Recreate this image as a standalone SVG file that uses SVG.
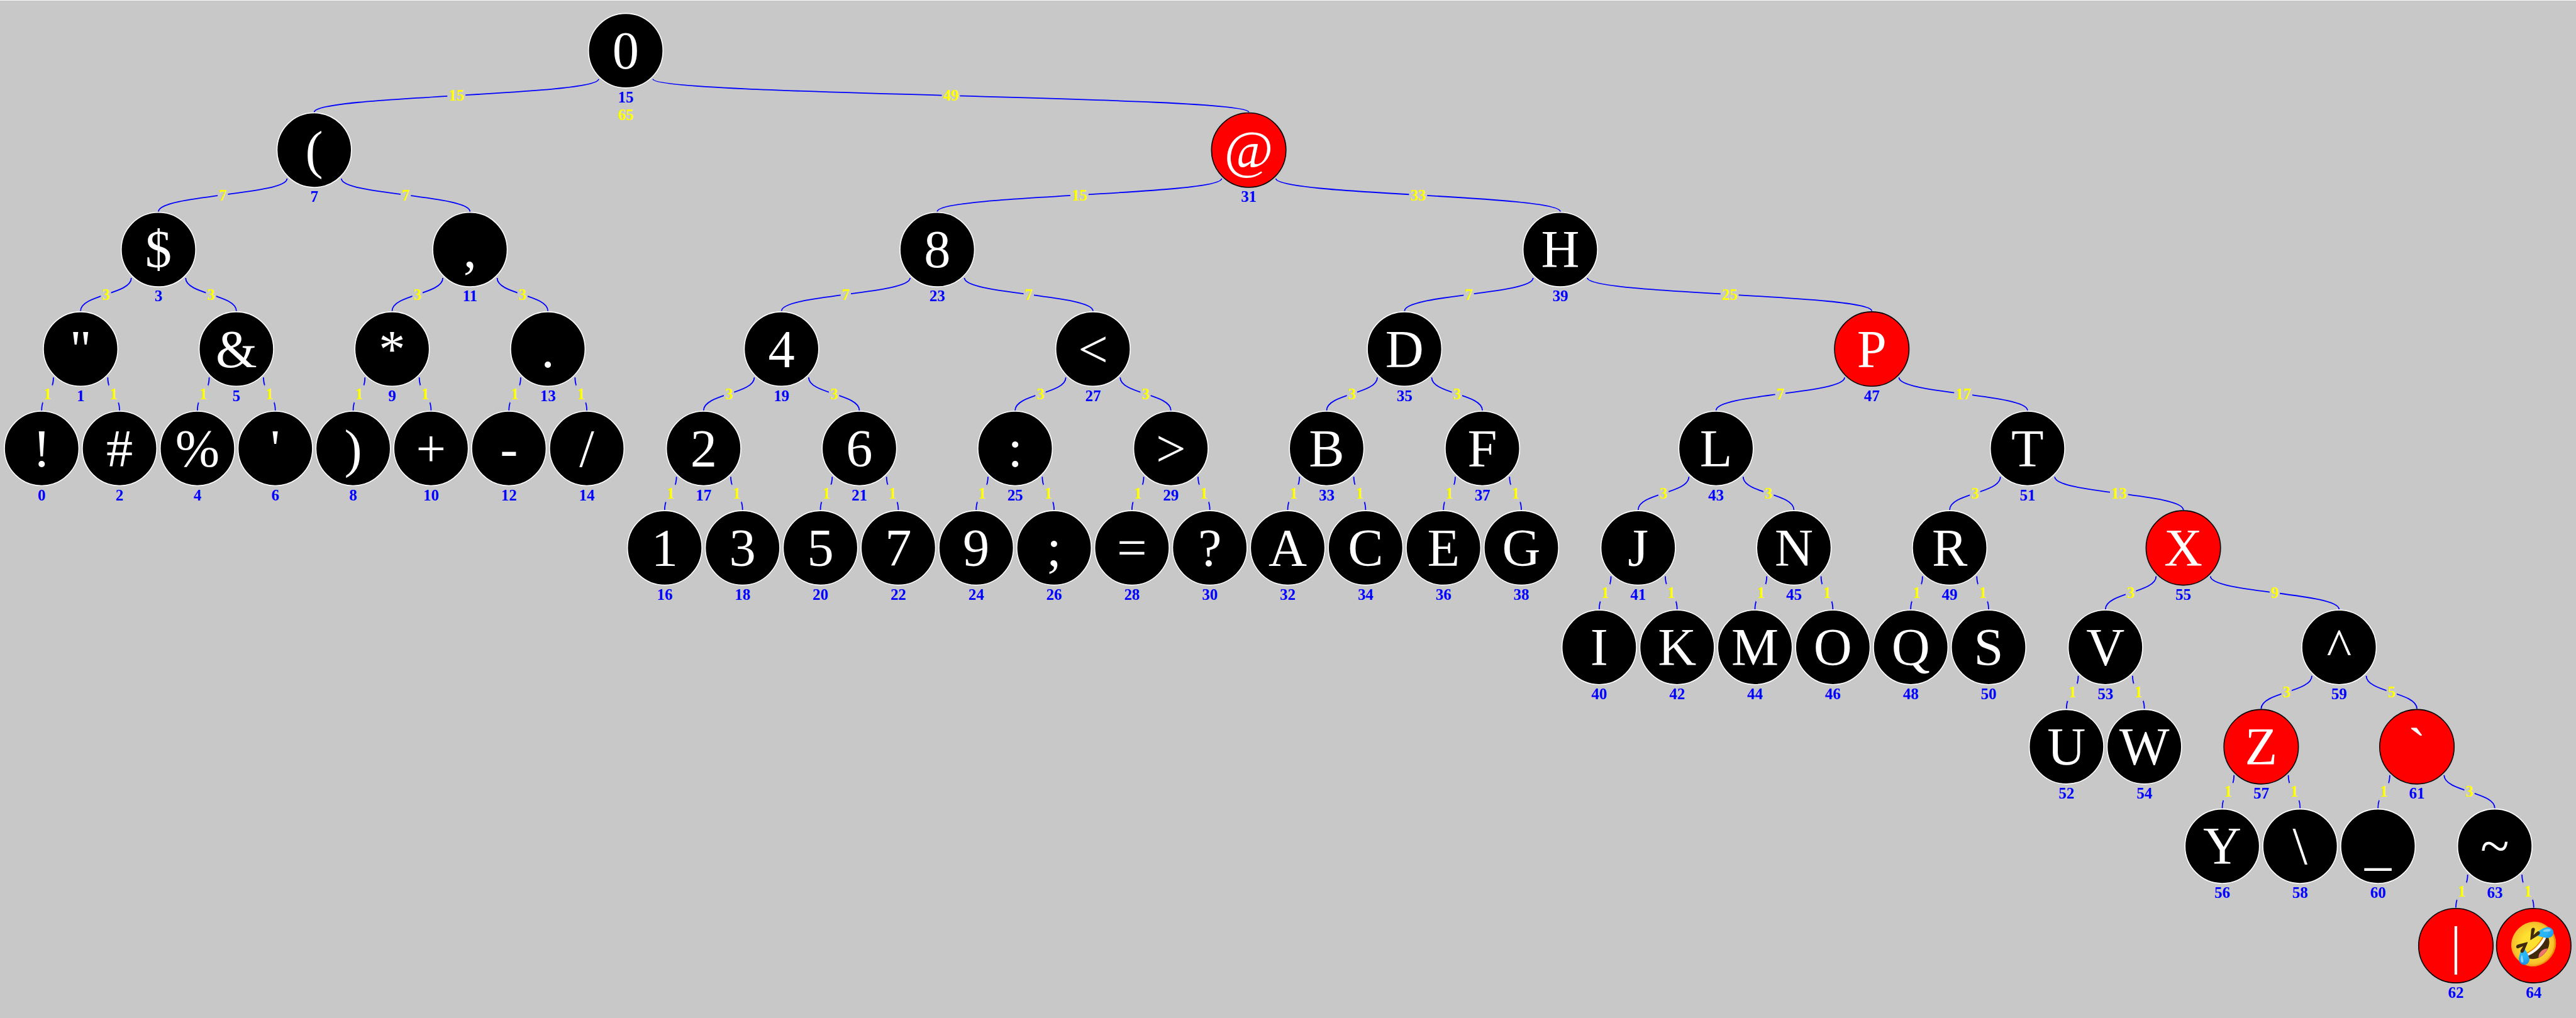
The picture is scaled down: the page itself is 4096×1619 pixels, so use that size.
<svg xmlns="http://www.w3.org/2000/svg" width="4096" height="1619" viewBox="0 0 4096 1619">
<style>
text{font-family:"Liberation Serif","Times New Roman",serif;text-anchor:middle}
.edge path{fill:none;stroke:#00f;stroke-width:1.9}
.edge rect{fill:#c8c8c8;height:29px}
.w1{width:17px}.w2{width:30px}
.yl{font-size:26px;font-weight:bold;fill:#ff0}
.ix{font-size:26px;font-weight:bold;fill:#00f}
.ch{font-size:88px;fill:#fff}
.ch.em{font-size:70px}
.b circle{fill:#000;stroke:#fff;stroke-width:1.7}
.r circle{fill:#f00;stroke:#000;stroke-width:1.7}
</style>
<rect width="4096" height="1619" fill="#c8c8c8"/>
<rect width="4096" height="1" fill="#f4f4f4"/>
<g transform="scale(0.959925)">
<g id="connectors">
<g class="edge"><path d="M991.5,131C991.5,158.4 520.5,158.4 520.5,185.75"/><rect class="w2" x="741" y="143.9"/><text class="yl" x="756" y="167.1">15</text></g>
<g class="edge"><path d="M1081.5,131C1081.5,158.4 2068.5,158.4 2068.5,185.75"/><rect class="w2" x="1560" y="143.9"/><text class="yl" x="1575" y="167.1">49</text></g>

<g class="edge"><path d="M475.5,295.75C475.5,323.1 262.5,323.1 262.5,350.5"/><rect class="w1" x="360.5" y="308.6"/><text class="yl" x="369" y="331.8">7</text></g>
<g class="edge"><path d="M565.5,295.75C565.5,323.1 778.5,323.1 778.5,350.5"/><rect class="w1" x="663.5" y="308.6"/><text class="yl" x="672" y="331.8">7</text></g>
<g class="edge"><path d="M2023.5,295.75C2023.5,323.1 1552.5,323.1 1552.5,350.5"/><rect class="w2" x="1773" y="308.6"/><text class="yl" x="1788" y="331.8">15</text></g>
<g class="edge"><path d="M2113.5,295.75C2113.5,323.1 2584.5,323.1 2584.5,350.5"/><rect class="w2" x="2334" y="308.6"/><text class="yl" x="2349" y="331.8">33</text></g>

<g class="edge"><path d="M217.5,460.5C217.5,487.9 133.5,487.9 133.5,515.25"/><rect class="w1" x="167" y="473.4"/><text class="yl" x="175.5" y="496.6">3</text></g>
<g class="edge"><path d="M307.5,460.5C307.5,487.9 391.5,487.9 391.5,515.25"/><rect class="w1" x="341" y="473.4"/><text class="yl" x="349.5" y="496.6">3</text></g>
<g class="edge"><path d="M733.5,460.5C733.5,487.9 649.5,487.9 649.5,515.25"/><rect class="w1" x="683" y="473.4"/><text class="yl" x="691.5" y="496.6">3</text></g>
<g class="edge"><path d="M823.5,460.5C823.5,487.9 907.5,487.9 907.5,515.25"/><rect class="w1" x="857" y="473.4"/><text class="yl" x="865.5" y="496.6">3</text></g>
<g class="edge"><path d="M1507.5,460.5C1507.5,487.9 1294.5,487.9 1294.5,515.25"/><rect class="w1" x="1392.5" y="473.4"/><text class="yl" x="1401" y="496.6">7</text></g>
<g class="edge"><path d="M1597.5,460.5C1597.5,487.9 1810.5,487.9 1810.5,515.25"/><rect class="w1" x="1695.5" y="473.4"/><text class="yl" x="1704" y="496.6">7</text></g>
<g class="edge"><path d="M2539.5,460.5C2539.5,487.9 2326.5,487.9 2326.5,515.25"/><rect class="w1" x="2424.5" y="473.4"/><text class="yl" x="2433" y="496.6">7</text></g>
<g class="edge"><path d="M2629.5,460.5C2629.5,487.9 3100.5,487.9 3100.5,515.25"/><rect class="w2" x="2850" y="473.4"/><text class="yl" x="2865" y="496.6">25</text></g>

<g class="edge"><path d="M88.5,625.25C88.5,652.6 69,652.6 69,680"/><rect class="w1" x="70.25" y="638.1"/><text class="yl" x="78.75" y="661.3">1</text></g>
<g class="edge"><path d="M178.5,625.25C178.5,652.6 198,652.6 198,680"/><rect class="w1" x="179.75" y="638.1"/><text class="yl" x="188.25" y="661.3">1</text></g>
<g class="edge"><path d="M346.5,625.25C346.5,652.6 327,652.6 327,680"/><rect class="w1" x="328.25" y="638.1"/><text class="yl" x="336.75" y="661.3">1</text></g>
<g class="edge"><path d="M436.5,625.25C436.5,652.6 456,652.6 456,680"/><rect class="w1" x="437.75" y="638.1"/><text class="yl" x="446.25" y="661.3">1</text></g>
<g class="edge"><path d="M604.5,625.25C604.5,652.6 585,652.6 585,680"/><rect class="w1" x="586.25" y="638.1"/><text class="yl" x="594.75" y="661.3">1</text></g>
<g class="edge"><path d="M694.5,625.25C694.5,652.6 714,652.6 714,680"/><rect class="w1" x="695.75" y="638.1"/><text class="yl" x="704.25" y="661.3">1</text></g>
<g class="edge"><path d="M862.5,625.25C862.5,652.6 843,652.6 843,680"/><rect class="w1" x="844.25" y="638.1"/><text class="yl" x="852.75" y="661.3">1</text></g>
<g class="edge"><path d="M952.5,625.25C952.5,652.6 972,652.6 972,680"/><rect class="w1" x="953.75" y="638.1"/><text class="yl" x="962.25" y="661.3">1</text></g>
<g class="edge"><path d="M1249.5,625.25C1249.5,652.6 1165.5,652.6 1165.5,680"/><rect class="w1" x="1199" y="638.1"/><text class="yl" x="1207.5" y="661.3">3</text></g>
<g class="edge"><path d="M1339.5,625.25C1339.5,652.6 1423.5,652.6 1423.5,680"/><rect class="w1" x="1373" y="638.1"/><text class="yl" x="1381.5" y="661.3">3</text></g>
<g class="edge"><path d="M1765.5,625.25C1765.5,652.6 1681.5,652.6 1681.5,680"/><rect class="w1" x="1715" y="638.1"/><text class="yl" x="1723.5" y="661.3">3</text></g>
<g class="edge"><path d="M1855.5,625.25C1855.5,652.6 1939.5,652.6 1939.5,680"/><rect class="w1" x="1889" y="638.1"/><text class="yl" x="1897.5" y="661.3">3</text></g>
<g class="edge"><path d="M2281.5,625.25C2281.5,652.6 2197.5,652.6 2197.5,680"/><rect class="w1" x="2231" y="638.1"/><text class="yl" x="2239.5" y="661.3">3</text></g>
<g class="edge"><path d="M2371.5,625.25C2371.5,652.6 2455.5,652.6 2455.5,680"/><rect class="w1" x="2405" y="638.1"/><text class="yl" x="2413.5" y="661.3">3</text></g>
<g class="edge"><path d="M3055.5,625.25C3055.5,652.6 2842.5,652.6 2842.5,680"/><rect class="w1" x="2940.5" y="638.1"/><text class="yl" x="2949" y="661.3">7</text></g>
<g class="edge"><path d="M3145.5,625.25C3145.5,652.6 3358.5,652.6 3358.5,680"/><rect class="w2" x="3237" y="638.1"/><text class="yl" x="3252" y="661.3">17</text></g>

<g class="edge"><path d="M1120.5,790C1120.5,817.4 1101,817.4 1101,844.75"/><rect class="w1" x="1102.25" y="802.9"/><text class="yl" x="1110.75" y="826.1">1</text></g>
<g class="edge"><path d="M1210.5,790C1210.5,817.4 1230,817.4 1230,844.75"/><rect class="w1" x="1211.75" y="802.9"/><text class="yl" x="1220.25" y="826.1">1</text></g>
<g class="edge"><path d="M1378.5,790C1378.5,817.4 1359,817.4 1359,844.75"/><rect class="w1" x="1360.25" y="802.9"/><text class="yl" x="1368.75" y="826.1">1</text></g>
<g class="edge"><path d="M1468.5,790C1468.5,817.4 1488,817.4 1488,844.75"/><rect class="w1" x="1469.75" y="802.9"/><text class="yl" x="1478.25" y="826.1">1</text></g>
<g class="edge"><path d="M1636.5,790C1636.5,817.4 1617,817.4 1617,844.75"/><rect class="w1" x="1618.25" y="802.9"/><text class="yl" x="1626.75" y="826.1">1</text></g>
<g class="edge"><path d="M1726.5,790C1726.5,817.4 1746,817.4 1746,844.75"/><rect class="w1" x="1727.75" y="802.9"/><text class="yl" x="1736.25" y="826.1">1</text></g>
<g class="edge"><path d="M1894.5,790C1894.5,817.4 1875,817.4 1875,844.75"/><rect class="w1" x="1876.25" y="802.9"/><text class="yl" x="1884.75" y="826.1">1</text></g>
<g class="edge"><path d="M1984.5,790C1984.5,817.4 2004,817.4 2004,844.75"/><rect class="w1" x="1985.75" y="802.9"/><text class="yl" x="1994.25" y="826.1">1</text></g>
<g class="edge"><path d="M2152.5,790C2152.5,817.4 2133,817.4 2133,844.75"/><rect class="w1" x="2134.25" y="802.9"/><text class="yl" x="2142.75" y="826.1">1</text></g>
<g class="edge"><path d="M2242.5,790C2242.5,817.4 2262,817.4 2262,844.75"/><rect class="w1" x="2243.75" y="802.9"/><text class="yl" x="2252.25" y="826.1">1</text></g>
<g class="edge"><path d="M2410.5,790C2410.5,817.4 2391,817.4 2391,844.75"/><rect class="w1" x="2392.25" y="802.9"/><text class="yl" x="2400.75" y="826.1">1</text></g>
<g class="edge"><path d="M2500.5,790C2500.5,817.4 2520,817.4 2520,844.75"/><rect class="w1" x="2501.75" y="802.9"/><text class="yl" x="2510.25" y="826.1">1</text></g>
<g class="edge"><path d="M2797.5,790C2797.5,817.4 2713.5,817.4 2713.5,844.75"/><rect class="w1" x="2747" y="802.9"/><text class="yl" x="2755.5" y="826.1">3</text></g>
<g class="edge"><path d="M2887.5,790C2887.5,817.4 2971.5,817.4 2971.5,844.75"/><rect class="w1" x="2921" y="802.9"/><text class="yl" x="2929.5" y="826.1">3</text></g>
<g class="edge"><path d="M3313.5,790C3313.5,817.4 3229.5,817.4 3229.5,844.75"/><rect class="w1" x="3263" y="802.9"/><text class="yl" x="3271.5" y="826.1">3</text></g>
<g class="edge"><path d="M3403.5,790C3403.5,817.4 3616.5,817.4 3616.5,844.75"/><rect class="w2" x="3495" y="802.9"/><text class="yl" x="3510" y="826.1">13</text></g>

<g class="edge"><path d="M2668.5,954.75C2668.5,982.1 2649,982.1 2649,1009.5"/><rect class="w1" x="2650.25" y="967.6"/><text class="yl" x="2658.75" y="990.8">1</text></g>
<g class="edge"><path d="M2758.5,954.75C2758.5,982.1 2778,982.1 2778,1009.5"/><rect class="w1" x="2759.75" y="967.6"/><text class="yl" x="2768.25" y="990.8">1</text></g>
<g class="edge"><path d="M2926.5,954.75C2926.5,982.1 2907,982.1 2907,1009.5"/><rect class="w1" x="2908.25" y="967.6"/><text class="yl" x="2916.75" y="990.8">1</text></g>
<g class="edge"><path d="M3016.5,954.75C3016.5,982.1 3036,982.1 3036,1009.5"/><rect class="w1" x="3017.75" y="967.6"/><text class="yl" x="3026.25" y="990.8">1</text></g>
<g class="edge"><path d="M3184.5,954.75C3184.5,982.1 3165,982.1 3165,1009.5"/><rect class="w1" x="3166.25" y="967.6"/><text class="yl" x="3174.75" y="990.8">1</text></g>
<g class="edge"><path d="M3274.5,954.75C3274.5,982.1 3294,982.1 3294,1009.5"/><rect class="w1" x="3275.75" y="967.6"/><text class="yl" x="3284.25" y="990.8">1</text></g>
<g class="edge"><path d="M3571.5,954.75C3571.5,982.1 3487.5,982.1 3487.5,1009.5"/><rect class="w1" x="3521" y="967.6"/><text class="yl" x="3529.5" y="990.8">3</text></g>
<g class="edge"><path d="M3661.5,954.75C3661.5,982.1 3874.5,982.1 3874.5,1009.5"/><rect class="w1" x="3759.5" y="967.6"/><text class="yl" x="3768" y="990.8">9</text></g>

<g class="edge"><path d="M3442.5,1119.5C3442.5,1146.9 3423,1146.9 3423,1174.25"/><rect class="w1" x="3424.25" y="1132.4"/><text class="yl" x="3432.75" y="1155.6">1</text></g>
<g class="edge"><path d="M3532.5,1119.5C3532.5,1146.9 3552,1146.9 3552,1174.25"/><rect class="w1" x="3533.75" y="1132.4"/><text class="yl" x="3542.25" y="1155.6">1</text></g>
<g class="edge"><path d="M3829.5,1119.5C3829.5,1146.9 3745.5,1146.9 3745.5,1174.25"/><rect class="w1" x="3779" y="1132.4"/><text class="yl" x="3787.5" y="1155.6">3</text></g>
<g class="edge"><path d="M3919.5,1119.5C3919.5,1146.9 4003.5,1146.9 4003.5,1174.25"/><rect class="w1" x="3953" y="1132.4"/><text class="yl" x="3961.5" y="1155.6">5</text></g>

<g class="edge"><path d="M3700.5,1284.25C3700.5,1311.6 3681,1311.6 3681,1339"/><rect class="w1" x="3682.25" y="1297.1"/><text class="yl" x="3690.75" y="1320.3">1</text></g>
<g class="edge"><path d="M3790.5,1284.25C3790.5,1311.6 3810,1311.6 3810,1339"/><rect class="w1" x="3791.75" y="1297.1"/><text class="yl" x="3800.25" y="1320.3">1</text></g>
<g class="edge"><path d="M3958.5,1284.25C3958.5,1311.6 3939,1311.6 3939,1339"/><rect class="w1" x="3940.25" y="1297.1"/><text class="yl" x="3948.75" y="1320.3">1</text></g>
<g class="edge"><path d="M4048.5,1284.25C4048.5,1311.6 4132.5,1311.6 4132.5,1339"/><rect class="w1" x="4082" y="1297.1"/><text class="yl" x="4090.5" y="1320.3">3</text></g>

<g class="edge"><path d="M4087.5,1449C4087.5,1476.4 4068,1476.4 4068,1503.75"/><rect class="w1" x="4069.25" y="1461.9"/><text class="yl" x="4077.75" y="1485.1">1</text></g>
<g class="edge"><path d="M4177.5,1449C4177.5,1476.4 4197,1476.4 4197,1503.75"/><rect class="w1" x="4178.75" y="1461.9"/><text class="yl" x="4187.25" y="1485.1">1</text></g>
</g>
<g id="nodes">
<g id="n0" class="b" transform="translate(69,743)"><circle r="61.7"/><text class="ch" y="29.7">!</text><text class="ix" y="86">0</text></g>
<g id="n1" class="b" transform="translate(133.5,578.25)"><circle r="61.7"/><text class="ch" y="29.7">"</text><text class="ix" y="86">1</text></g>
<g id="n2" class="b" transform="translate(198,743)"><circle r="61.7"/><text class="ch" y="29.7">#</text><text class="ix" y="86">2</text></g>
<g id="n3" class="b" transform="translate(262.5,413.5)"><circle r="61.7"/><text class="ch" y="29.7">$</text><text class="ix" y="86">3</text></g>
<g id="n4" class="b" transform="translate(327,743)"><circle r="61.7"/><text class="ch" y="29.7">%</text><text class="ix" y="86">4</text></g>
<g id="n5" class="b" transform="translate(391.5,578.25)"><circle r="61.7"/><text class="ch" y="29.7">&amp;</text><text class="ix" y="86">5</text></g>
<g id="n6" class="b" transform="translate(456,743)"><circle r="61.7"/><text class="ch" y="29.7">'</text><text class="ix" y="86">6</text></g>
<g id="n7" class="b" transform="translate(520.5,248.75)"><circle r="61.7"/><text class="ch" y="29.7">(</text><text class="ix" y="86">7</text></g>
<g id="n8" class="b" transform="translate(585,743)"><circle r="61.7"/><text class="ch" y="29.7">)</text><text class="ix" y="86">8</text></g>
<g id="n9" class="b" transform="translate(649.5,578.25)"><circle r="61.7"/><text class="ch" y="29.7">*</text><text class="ix" y="86">9</text></g>
<g id="n10" class="b" transform="translate(714,743)"><circle r="61.7"/><text class="ch" y="29.7">+</text><text class="ix" y="86">10</text></g>
<g id="n11" class="b" transform="translate(778.5,413.5)"><circle r="61.7"/><text class="ch" y="29.7">,</text><text class="ix" y="86">11</text></g>
<g id="n12" class="b" transform="translate(843,743)"><circle r="61.7"/><text class="ch" y="29.7">-</text><text class="ix" y="86">12</text></g>
<g id="n13" class="b" transform="translate(907.5,578.25)"><circle r="61.7"/><text class="ch" y="29.7">.</text><text class="ix" y="86">13</text></g>
<g id="n14" class="b" transform="translate(972,743)"><circle r="61.7"/><text class="ch" y="29.7">/</text><text class="ix" y="86">14</text></g>
<g id="n15" class="b" transform="translate(1036.5,84)"><circle r="61.7"/><text class="ch" y="29.7">0</text><text class="ix" y="86">15</text><text class="yl" y="115">65</text></g>
<g id="n16" class="b" transform="translate(1101,907.75)"><circle r="61.7"/><text class="ch" y="29.7">1</text><text class="ix" y="86">16</text></g>
<g id="n17" class="b" transform="translate(1165.5,743)"><circle r="61.7"/><text class="ch" y="29.7">2</text><text class="ix" y="86">17</text></g>
<g id="n18" class="b" transform="translate(1230,907.75)"><circle r="61.7"/><text class="ch" y="29.7">3</text><text class="ix" y="86">18</text></g>
<g id="n19" class="b" transform="translate(1294.5,578.25)"><circle r="61.7"/><text class="ch" y="29.7">4</text><text class="ix" y="86">19</text></g>
<g id="n20" class="b" transform="translate(1359,907.75)"><circle r="61.7"/><text class="ch" y="29.7">5</text><text class="ix" y="86">20</text></g>
<g id="n21" class="b" transform="translate(1423.5,743)"><circle r="61.7"/><text class="ch" y="29.7">6</text><text class="ix" y="86">21</text></g>
<g id="n22" class="b" transform="translate(1488,907.75)"><circle r="61.7"/><text class="ch" y="29.7">7</text><text class="ix" y="86">22</text></g>
<g id="n23" class="b" transform="translate(1552.5,413.5)"><circle r="61.7"/><text class="ch" y="29.7">8</text><text class="ix" y="86">23</text></g>
<g id="n24" class="b" transform="translate(1617,907.75)"><circle r="61.7"/><text class="ch" y="29.7">9</text><text class="ix" y="86">24</text></g>
<g id="n25" class="b" transform="translate(1681.5,743)"><circle r="61.7"/><text class="ch" y="29.7">:</text><text class="ix" y="86">25</text></g>
<g id="n26" class="b" transform="translate(1746,907.75)"><circle r="61.7"/><text class="ch" y="29.7">;</text><text class="ix" y="86">26</text></g>
<g id="n27" class="b" transform="translate(1810.5,578.25)"><circle r="61.7"/><text class="ch" y="29.7">&lt;</text><text class="ix" y="86">27</text></g>
<g id="n28" class="b" transform="translate(1875,907.75)"><circle r="61.7"/><text class="ch" y="29.7">=</text><text class="ix" y="86">28</text></g>
<g id="n29" class="b" transform="translate(1939.5,743)"><circle r="61.7"/><text class="ch" y="29.7">&gt;</text><text class="ix" y="86">29</text></g>
<g id="n30" class="b" transform="translate(2004,907.75)"><circle r="61.7"/><text class="ch" y="29.7">?</text><text class="ix" y="86">30</text></g>
<g id="n31" class="r" transform="translate(2068.5,248.75)"><circle r="61.7"/><text class="ch" y="29.7">@</text><text class="ix" y="86">31</text></g>
<g id="n32" class="b" transform="translate(2133,907.75)"><circle r="61.7"/><text class="ch" y="29.7">A</text><text class="ix" y="86">32</text></g>
<g id="n33" class="b" transform="translate(2197.5,743)"><circle r="61.7"/><text class="ch" y="29.7">B</text><text class="ix" y="86">33</text></g>
<g id="n34" class="b" transform="translate(2262,907.75)"><circle r="61.7"/><text class="ch" y="29.7">C</text><text class="ix" y="86">34</text></g>
<g id="n35" class="b" transform="translate(2326.5,578.25)"><circle r="61.7"/><text class="ch" y="29.7">D</text><text class="ix" y="86">35</text></g>
<g id="n36" class="b" transform="translate(2391,907.75)"><circle r="61.7"/><text class="ch" y="29.7">E</text><text class="ix" y="86">36</text></g>
<g id="n37" class="b" transform="translate(2455.5,743)"><circle r="61.7"/><text class="ch" y="29.7">F</text><text class="ix" y="86">37</text></g>
<g id="n38" class="b" transform="translate(2520,907.75)"><circle r="61.7"/><text class="ch" y="29.7">G</text><text class="ix" y="86">38</text></g>
<g id="n39" class="b" transform="translate(2584.5,413.5)"><circle r="61.7"/><text class="ch" y="29.7">H</text><text class="ix" y="86">39</text></g>
<g id="n40" class="b" transform="translate(2649,1072.5)"><circle r="61.7"/><text class="ch" y="29.7">I</text><text class="ix" y="86">40</text></g>
<g id="n41" class="b" transform="translate(2713.5,907.75)"><circle r="61.7"/><text class="ch" y="29.7">J</text><text class="ix" y="86">41</text></g>
<g id="n42" class="b" transform="translate(2778,1072.5)"><circle r="61.7"/><text class="ch" y="29.7">K</text><text class="ix" y="86">42</text></g>
<g id="n43" class="b" transform="translate(2842.5,743)"><circle r="61.7"/><text class="ch" y="29.7">L</text><text class="ix" y="86">43</text></g>
<g id="n44" class="b" transform="translate(2907,1072.5)"><circle r="61.7"/><text class="ch" y="29.7">M</text><text class="ix" y="86">44</text></g>
<g id="n45" class="b" transform="translate(2971.5,907.75)"><circle r="61.7"/><text class="ch" y="29.7">N</text><text class="ix" y="86">45</text></g>
<g id="n46" class="b" transform="translate(3036,1072.5)"><circle r="61.7"/><text class="ch" y="29.7">O</text><text class="ix" y="86">46</text></g>
<g id="n47" class="r" transform="translate(3100.5,578.25)"><circle r="61.7"/><text class="ch" y="29.7">P</text><text class="ix" y="86">47</text></g>
<g id="n48" class="b" transform="translate(3165,1072.5)"><circle r="61.7"/><text class="ch" y="29.7">Q</text><text class="ix" y="86">48</text></g>
<g id="n49" class="b" transform="translate(3229.5,907.75)"><circle r="61.7"/><text class="ch" y="29.7">R</text><text class="ix" y="86">49</text></g>
<g id="n50" class="b" transform="translate(3294,1072.5)"><circle r="61.7"/><text class="ch" y="29.7">S</text><text class="ix" y="86">50</text></g>
<g id="n51" class="b" transform="translate(3358.5,743)"><circle r="61.7"/><text class="ch" y="29.7">T</text><text class="ix" y="86">51</text></g>
<g id="n52" class="b" transform="translate(3423,1237.25)"><circle r="61.7"/><text class="ch" y="29.7">U</text><text class="ix" y="86">52</text></g>
<g id="n53" class="b" transform="translate(3487.5,1072.5)"><circle r="61.7"/><text class="ch" y="29.7">V</text><text class="ix" y="86">53</text></g>
<g id="n54" class="b" transform="translate(3552,1237.25)"><circle r="61.7"/><text class="ch" y="29.7">W</text><text class="ix" y="86">54</text></g>
<g id="n55" class="r" transform="translate(3616.5,907.75)"><circle r="61.7"/><text class="ch" y="29.7">X</text><text class="ix" y="86">55</text></g>
<g id="n56" class="b" transform="translate(3681,1402)"><circle r="61.7"/><text class="ch" y="29.7">Y</text><text class="ix" y="86">56</text></g>
<g id="n57" class="r" transform="translate(3745.5,1237.25)"><circle r="61.7"/><text class="ch" y="29.7">Z</text><text class="ix" y="86">57</text></g>
<g id="n58" class="b" transform="translate(3810,1402)"><circle r="61.7"/><text class="ch" y="29.7">\</text><text class="ix" y="86">58</text></g>
<g id="n59" class="b" transform="translate(3874.5,1072.5)"><circle r="61.7"/><text class="ch" y="29.7">^</text><text class="ix" y="86">59</text></g>
<g id="n60" class="b" transform="translate(3939,1402)"><circle r="61.7"/><text class="ch" y="29.7">_</text><text class="ix" y="86">60</text></g>
<g id="n61" class="r" transform="translate(4003.5,1237.25)"><circle r="61.7"/><text class="ch" y="29.7">`</text><text class="ix" y="86">61</text></g>
<g id="n62" class="r" transform="translate(4068,1566.75)"><circle r="61.7"/><text class="ch" y="29.7">|</text><text class="ix" y="86">62</text></g>
<g id="n63" class="b" transform="translate(4132.5,1402)"><circle r="61.7"/><text class="ch" y="29.7">~</text><text class="ix" y="86">63</text></g>
<g id="n64" class="r" transform="translate(4197,1566.75)"><circle r="61.7"/><text class="ch em" y="22">🤣</text><text class="ix" y="86">64</text></g>
</g>
</g>
</svg>
